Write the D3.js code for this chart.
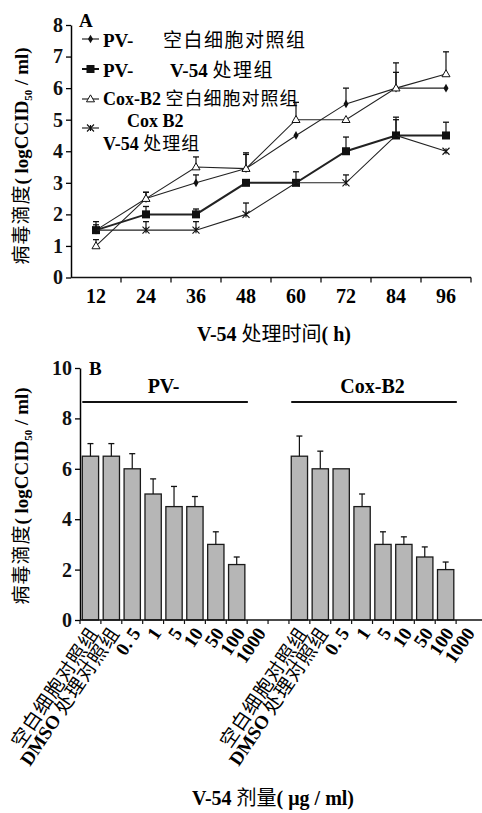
<!DOCTYPE html>
<html lang="zh">
<head>
<meta charset="utf-8">
<title>V-54</title>
<script src="https://d3js.org/d3.v7.min.js"></script>
<style>
  body { margin: 0; background: #fff; }
  svg { display: block; }
  .lat { font-family: "Liberation Serif", "Times New Roman", serif; font-weight: bold; }
  .cjk { font-family: "Noto Sans CJK SC", sans-serif; font-weight: normal; }
</style>
</head>
<body>
<script>
// ---- panel A data ----
var hours = ["12", "24", "36", "48", "60", "72", "84", "96"];
var pvBlank    = [1.5, 2.5, 3.0, 3.45, 4.5, 5.5, 6.0, 6.0];
var pvBlankErr = [0.27, 0.2, 0.25, 0.45, 0, 0.5, 0.5, 0];
var pvV54      = [1.5, 2.0, 2.0, 3.0, 3.0, 4.0, 4.5, 4.5];
var pvV54Err   = [0.17, 0.25, 0.17, 0, 0.35, 0.45, 0.58, 0.42];
var coxBlank    = [1.0, 2.5, 3.5, 3.45, 5.0, 5.0, 6.0, 6.45];
var coxBlankErr = [0.2, 0.2, 0.32, 0.5, 0.55, 0, 0.8, 0.7];
var coxV54      = [1.5, 1.5, 1.5, 2.0, 3.0, 3.0, 4.5, 4.0];
var coxV54Err   = [0, 0.27, 0.27, 0.36, 0, 0.25, 0.5, 0];
var yTicksA = [0, 1, 2, 3, 4, 5, 6, 7, 8];

// ---- panel B data ----
var doses = ["空白细胞对照组", "DMSO 处理对照组", "0. 5", "1", "5", "10", "50", "100", "1000"];
var pvDose     = [6.5, 6.5, 6.0, 5.0, 4.5, 4.5, 3.0, 2.2, 0];
var pvDoseErr  = [0.5, 0.5, 0.6, 0.6, 0.8, 0.4, 0.5, 0.3, 0];
var coxDose    = [6.5, 6.0, 6.0, 4.5, 3.0, 3.0, 2.5, 2.0, 0];
var coxDoseErr = [0.8, 0.7, 0, 0.5, 0.5, 0.3, 0.4, 0.3, 0];
var groups = ["PV-", "Cox-B2"];
var yTicksB = [0, 2, 4, 6, 8, 10];

var W = 482, H = 813;
var svg = d3.select("body").append("svg").attr("width", W).attr("height", H);

// write mixed latin / chinese text as tspans
function mixed(sel, str, size) {
  var parts = str.match(/[\u3000-\u9fff\uff00-\uffef]+|[^\u3000-\u9fff\uff00-\uffef]+/g);
  parts.forEach(function(p) {
    var isC = /[\u3000-\u9fff\uff00-\uffef]/.test(p);
    sel.append("tspan").attr("class", isC ? "cjk" : "lat")
      .attr("font-size", size)
      .attr("letter-spacing", isC ? 1 : 0)
      .text(p);
  });
  return sel;
}

function yTitle(g, x, y) {
  var t = g.append("text").attr("transform", "translate(" + x + "," + y + ") rotate(-90)")
    .attr("text-anchor", "middle").attr("font-size", 19);
  t.append("tspan").attr("class", "cjk").attr("letter-spacing", 1).text("病毒滴度");
  t.append("tspan").attr("class", "lat").text("( logCCID");
  t.append("tspan").attr("class", "lat").attr("font-size", 11).attr("dy", 4).text("50");
  t.append("tspan").attr("class", "lat").attr("dy", -4).text(" / ml)");
}

// ================= panel A =================
var gA = svg.append("g");
var xA = d3.scaleBand().domain(hours).range([71, 471]);
var yA = d3.scaleLinear().domain([0, 8]).range([277.5, 25]);

gA.append("g").attr("transform", "translate(71,0)")
  .call(d3.axisLeft(yA).tickValues(yTicksA).tickSize(5).tickSizeOuter(0).tickPadding(3))
  .call(function(a) {
    a.select(".domain").attr("stroke-width", 1.5);
    a.selectAll(".tick line").attr("stroke-width", 1.3);
    a.selectAll("text").attr("class", "lat").attr("font-size", 20).attr("fill", "#111");
  });

var xAx = gA.append("g").attr("transform", "translate(0,277.5)");
xAx.append("line").attr("x1", 71).attr("x2", 471).attr("stroke", "#111").attr("stroke-width", 1.5);
xAx.selectAll(".tk").data(hours).enter().append("line")
  .attr("x1", function(d) { return xA(d) + xA.bandwidth(); })
  .attr("x2", function(d) { return xA(d) + xA.bandwidth(); })
  .attr("y1", 0).attr("y2", 5).attr("stroke", "#111").attr("stroke-width", 1.3);
xAx.selectAll(".lb").data(hours).enter().append("text")
  .attr("class", "lat").attr("font-size", 20).attr("text-anchor", "middle")
  .attr("x", function(d) { return xA(d) + xA.bandwidth() / 2; })
  .attr("y", 25).text(function(d) { return d; });

var seriesA = [
  { v: pvBlank, e: pvBlankErr, m: "diamond", w: 1.1 },
  { v: pvV54, e: pvV54Err, m: "square", w: 2 },
  { v: coxBlank, e: coxBlankErr, m: "triangle", w: 1.1 },
  { v: coxV54, e: coxV54Err, m: "cross", w: 1.1 }
];

function marker(g, type, x, y) {
  if (type === "diamond") {
    g.append("path").attr("d", d3.symbol(d3.symbolDiamond, 22)()).attr("transform", "translate(" + x + "," + y + ")").attr("fill", "#111");
  } else if (type === "square") {
    g.append("rect").attr("x", x - 4).attr("y", y - 4).attr("width", 8).attr("height", 8).attr("fill", "#111");
  } else if (type === "triangle") {
    g.append("path").attr("d", d3.symbol(d3.symbolTriangle, 28)()).attr("transform", "translate(" + x + "," + (y + 0.5) + ")")
      .attr("fill", "#fff").attr("stroke", "#111").attr("stroke-width", 1);
  } else {
    g.append("path").attr("d", "M-3.5,-3.5L3.5,3.5M-3.5,3.5L3.5,-3.5M0,-3L0,3")
      .attr("transform", "translate(" + x + "," + y + ")").attr("stroke", "#111").attr("stroke-width", 1.1);
  }
}

var cx = function(i) { return xA(hours[i]) + xA.bandwidth() / 2; };
var line = d3.line().x(function(d, i) { return cx(i); }).y(function(d) { return yA(d); });

seriesA.forEach(function(s) {
  var g = gA.append("g");
  s.v.forEach(function(v, i) {
    if (s.e[i] > 0) {
      var y0 = yA(v), y1 = yA(v + s.e[i]);
      g.append("line").attr("x1", cx(i)).attr("x2", cx(i)).attr("y1", y0).attr("y2", y1).attr("stroke", "#111").attr("stroke-width", 1.2);
      g.append("line").attr("x1", cx(i) - 3).attr("x2", cx(i) + 3).attr("y1", y1).attr("y2", y1).attr("stroke", "#111").attr("stroke-width", 1.3);
    }
  });
  g.append("path").attr("d", line(s.v)).attr("fill", "none").attr("stroke", "#222").attr("stroke-width", s.w);
  s.v.forEach(function(v, i) { marker(g, s.m, cx(i), yA(v)); });
});

// legend
var legY = [39, 69, 99, 128];
seriesA.forEach(function(s, i) {
  var g = gA.append("g");
  g.append("line").attr("x1", 82).attr("x2", 99).attr("y1", legY[i]).attr("y2", legY[i]).attr("stroke", "#111").attr("stroke-width", s.w);
  marker(g, s.m, 90.5, legY[i]);
});
gA.append("text").attr("x", 103).attr("y", 47).attr("font-size", 19)
  .call(function(t) {
    t.append("tspan").attr("class", "lat").text("PV-");
    t.append("tspan").attr("class", "cjk").attr("x", 163).attr("letter-spacing", 1.5).text("空白细胞对照组");
  });
gA.append("text").attr("x", 103).attr("y", 77).attr("font-size", 19)
  .call(function(t) {
    t.append("tspan").attr("class", "lat").text("PV-");
    t.append("tspan").attr("class", "lat").attr("x", 170).text("V-54 ");
    t.append("tspan").attr("class", "cjk").attr("letter-spacing", 1.5).text("处理组");
  });
mixed(gA.append("text").attr("x", 103).attr("y", 105), "Cox-B2 空白细胞对照组", 18);
// two-line legend entry for the last series
gA.append("text").attr("font-size", 18)
  .call(function(t) {
    t.append("tspan").attr("class", "lat").attr("x", 127).attr("y", 127).attr("font-size", 18).text("Cox B2");
    t.append("tspan").attr("class", "lat").attr("x", 103).attr("y", 150).attr("font-size", 18).text("V-54 ");
    t.append("tspan").attr("class", "cjk").attr("font-size", 18).attr("letter-spacing", 1).text("处理组");
  });
gA.append("text").attr("class", "lat").attr("x", 79).attr("y", 27).attr("font-size", 19).text("A");

yTitle(gA, 28, 156);
var tA = gA.append("text").attr("x", 274).attr("y", 341).attr("text-anchor", "middle").attr("font-size", 20);
tA.append("tspan").attr("class", "lat").text("V-54 ");
tA.append("tspan").attr("class", "cjk").text("处理时间");
tA.append("tspan").attr("class", "lat").text("( h)");

// ================= panel B =================
var gB = svg.append("g");
var slots = d3.range(19);
var xB = d3.scaleBand().domain(slots).range([80, 477]).paddingInner(0.22).paddingOuter(0.11);
var yB = d3.scaleLinear().domain([0, 10]).range([620, 368]);

gB.append("g").attr("transform", "translate(80,0)")
  .call(d3.axisLeft(yB).tickValues(yTicksB).tickSize(5).tickSizeOuter(0).tickPadding(3))
  .call(function(a) {
    a.select(".domain").attr("stroke-width", 1.5);
    a.selectAll(".tick line").attr("stroke-width", 1.3);
    a.selectAll("text").attr("class", "lat").attr("font-size", 20).attr("fill", "#111");
  });

var bars = [];
[pvDose, coxDose].forEach(function(arr, gi) {
  var errs = gi === 0 ? pvDoseErr : coxDoseErr;
  arr.forEach(function(v, i) { bars.push({ slot: gi * 10 + i, v: v, e: errs[i], label: doses[i] }); });
});

var step = xB.step();
gB.selectAll(".bar").data(bars.filter(function(d) { return d.v > 0; })).enter().append("rect")
  .attr("x", function(d) { return xB(d.slot); })
  .attr("y", function(d) { return yB(d.v); })
  .attr("width", xB.bandwidth())
  .attr("height", function(d) { return yB(0) - yB(d.v); })
  .attr("fill", "#b6b6b6").attr("stroke", "#1a1a1a").attr("stroke-width", 1.3);

var eb = gB.selectAll(".err").data(bars.filter(function(d) { return d.e > 0; })).enter().append("g");
eb.append("line")
  .attr("x1", function(d) { return xB(d.slot) + xB.bandwidth() / 2; })
  .attr("x2", function(d) { return xB(d.slot) + xB.bandwidth() / 2; })
  .attr("y1", function(d) { return yB(d.v); })
  .attr("y2", function(d) { return yB(d.v + d.e); })
  .attr("stroke", "#111").attr("stroke-width", 1.2);
eb.append("line")
  .attr("x1", function(d) { return xB(d.slot) + xB.bandwidth() / 2 - 3; })
  .attr("x2", function(d) { return xB(d.slot) + xB.bandwidth() / 2 + 3; })
  .attr("y1", function(d) { return yB(d.v + d.e); })
  .attr("y2", function(d) { return yB(d.v + d.e); })
  .attr("stroke", "#111").attr("stroke-width", 1.3);

// x axis B
gB.append("line").attr("x1", 80).attr("x2", 482).attr("y1", 620).attr("y2", 620).attr("stroke", "#111").attr("stroke-width", 1.5);
gB.selectAll(".tkb").data(slots).enter().append("line")
  .attr("x1", function(d) { return 80 + d * step; }).attr("x2", function(d) { return 80 + d * step; })
  .attr("y1", 620).attr("y2", 624).attr("stroke", "#111").attr("stroke-width", 1.2);

bars.forEach(function(d) {
  var x = xB(d.slot) + xB.bandwidth() / 2;
  mixed(gB.append("text").attr("text-anchor", "end")
    .attr("transform", "translate(" + (x + 9) + ",633) rotate(-56)"), d.label, 19);
});

// group lines
groups.forEach(function(gname, gi) {
  var x0 = xB(gi * 10), x1 = xB(gi * 10 + 7) + xB.bandwidth();
  gB.append("line").attr("x1", x0).attr("x2", x1 + 3).attr("y1", 402).attr("y2", 402).attr("stroke", "#111").attr("stroke-width", 2);
  gB.append("text").attr("class", "lat").attr("font-size", 20).attr("text-anchor", "middle")
    .attr("x", (x0 + x1) / 2).attr("y", 393).text(gname);
});
gB.append("text").attr("class", "lat").attr("x", 89).attr("y", 375).attr("font-size", 19).text("B");

yTitle(gB, 28, 496);
var tB = gB.append("text").attr("x", 273).attr("y", 805).attr("text-anchor", "middle").attr("font-size", 20);
tB.append("tspan").attr("class", "lat").text("V-54 ");
tB.append("tspan").attr("class", "cjk").text("剂量");
tB.append("tspan").attr("class", "lat").text("( μg / ml)");
</script>
</body>
</html>
